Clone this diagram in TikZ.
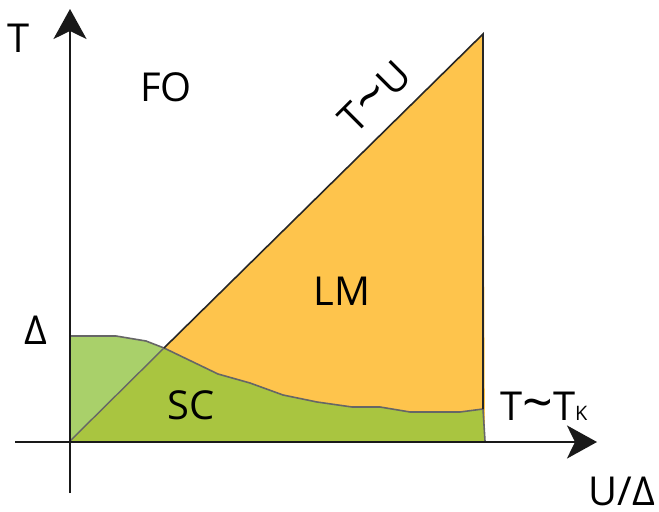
\documentclass[tikz,border=0pt]{standalone}
\usepackage{fontspec}
\setmainfont{Open Sans}
\usepackage{graphicx}
\usepackage{xcolor}
\definecolor{orangelm}{HTML}{FEC44C}
\definecolor{vertsc}{HTML}{A9C540}
\definecolor{vertclair}{HTML}{A9D06A}
\definecolor{grisbord}{HTML}{666666}
\usepackage{tikz}
\usetikzlibrary{arrows.meta}
\newcommand{\tild}{\raisebox{-1bp}{\scalebox{1.35}{\textasciitilde}}}

\begin{document}
\begin{tikzpicture}[x=1bp,y=-1bp,
  etiquette/.style={font=\fontsize{40}{48}\selectfont,inner sep=0pt},
  axe/.style={line width=2.4bp,draw=black!90,-{Stealth[length=30bp,width=33bp,inset=8bp]}},
  bord/.style={draw=grisbord,line width=1.6bp,line join=round}
]
\useasboundingbox (0,0) rectangle (659,512);
% points of the diagram
\coordinate (o) at (70,441);
\coordinate (a) at (483,34);
\coordinate (p) at (164,348);
\coordinate (k) at (483,409);
\coordinate (b) at (485,441);
\coordinate (d) at (70,336);
% regions
\fill[orangelm] (o) -- (a) -- (b) -- cycle;
\fill[vertsc] (p) -- (218,374) -- (250,383) -- (283,395) -- (317,402) -- (352,407)
  -- (380,407) -- (410,412) -- (460,412) -- (k) -- (b) -- (o) -- cycle;
\fill[vertclair] (o) -- (d) -- (116,336) -- (146,341) -- (p) -- cycle;
% boundaries
\draw[bord] (d) -- (116,336) -- (146,341) -- (p) -- (218,374) -- (250,383) -- (283,395)
  -- (317,402) -- (352,407) -- (380,407) -- (410,412) -- (460,412) -- (k) -- (b);
\draw[grisbord,line width=1.4bp] (o) -- (p);
\draw[black!85,line width=1.6bp] (p) -- (a) -- (k);
% axes
\draw[axe] (70,493) -- (70,9);
\draw[axe] (15,442) -- (597,442);
% labels
\node[etiquette] (t) at (19,38) {T};
\node[etiquette] (fo) at (166,87) {FO};
\node[etiquette] (delta) at (36,330) {Δ};
\node[etiquette] (sc) at (191,405) {SC};
\node[etiquette] (lm) at (342,291) {LM};
\node[etiquette,rotate=45] (tu) at (375,97) {T\tild U};
\node[etiquette,anchor=base west] (tk) at (500,420) {T\tild T{\fontsize{20}{20}\selectfont K}};
\node[etiquette] (ud) at (622,491) {U/Δ};
\end{tikzpicture}
\end{document}
